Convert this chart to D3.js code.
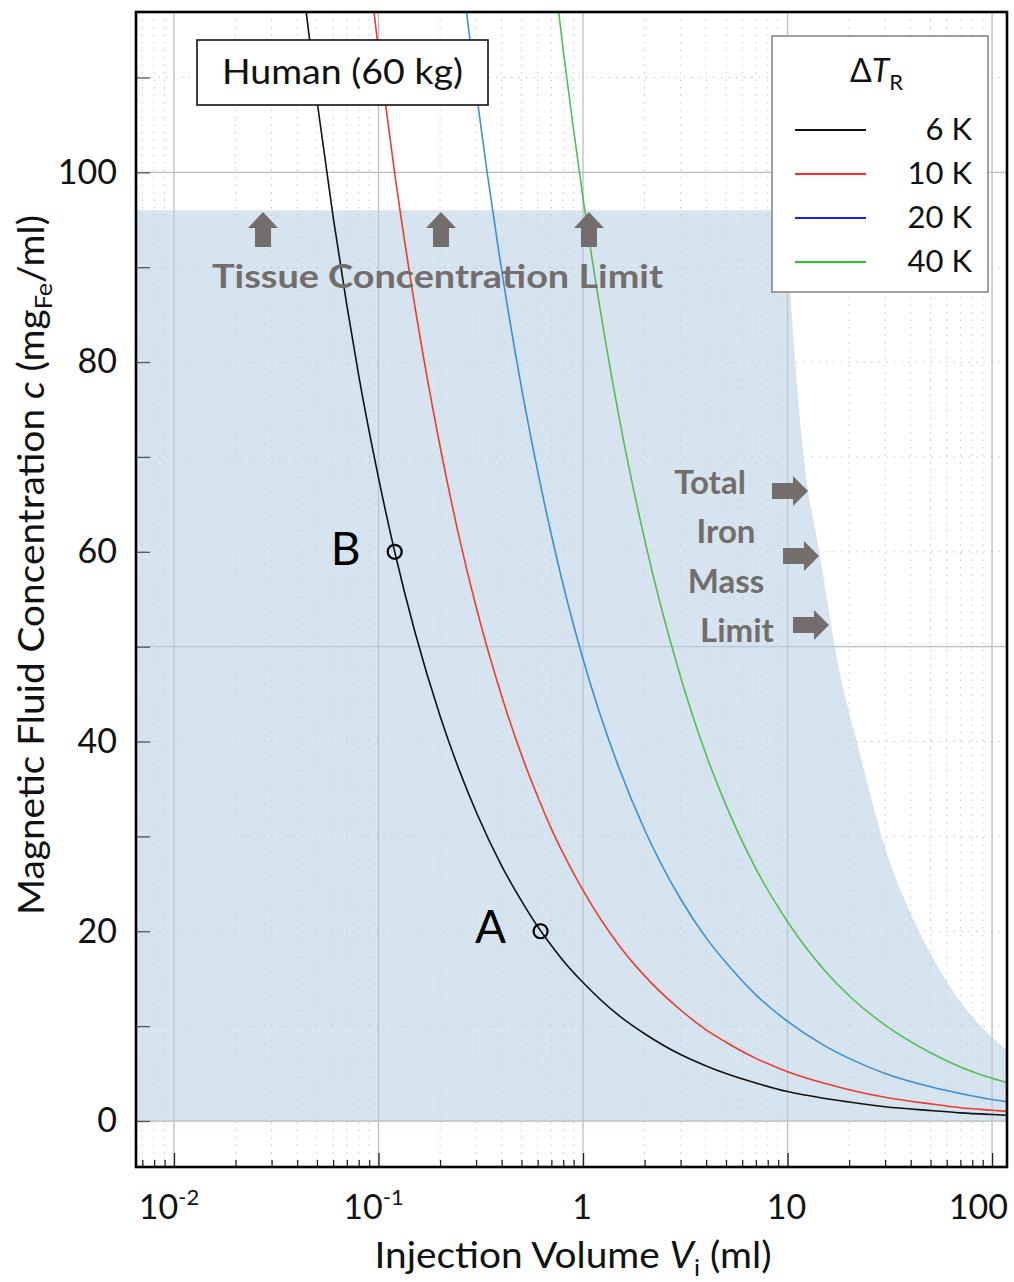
<!DOCTYPE html>
<html><head><meta charset="utf-8">
<script src="https://cdn.jsdelivr.net/npm/d3@7"></script>
<style>
body{margin:0;background:#fff}
text{font-family:Lato,"Open Sans",sans-serif}
</style>
</head><body>
<svg id="c" width="1014" height="1282"></svg>
<script>
// ---------- data ----------
const volumes = [0.04,0.05,0.06,0.07,0.08,0.1,0.12,0.15,0.2,0.25,0.3,0.4,0.5,0.6,0.7,0.8,1,1.5,2,3,4,5,7,10,15,20,30,50,70,100,120];
const conc6K  = [124.8,107.6,95.3,86.0,78.6,67.8,60.0,51.7,42.7,36.8,32.6,26.9,23.2,20.5,18.5,16.9,14.6,11.1,9.2,7.0,5.8,5.0,4.0,3.1,2.4,2.0,1.5,1.1,0.86,0.68,0.60];
const conc10K = [null,null,null,null,130.9,112.8,99.9,86.1,71.1,61.2,54.2,44.8,38.6,34.2,30.8,28.2,24.3,18.5,15.3,11.7,9.6,8.3,6.6,5.2,4.0,3.3,2.5,1.8,1.4,1.13,1.0];
const conc20K = [null,null,null,null,null,null,null,null,null,122.7,108.6,89.7,77.3,68.5,61.8,56.5,48.7,37.2,30.7,23.4,19.3,16.7,13.3,10.5,8.0,6.6,5.0,3.6,2.9,2.26,2.0];
const conc40K = [null,null,null,null,null,null,null,null,null,null,null,null,null,null,123.4,112.9,97.3,74.2,61.3,46.8,38.6,33.3,26.6,21.0,16.0,13.2,10.1,7.2,5.7,4.5,4.0];
const seriesNames = ["6 K","10 K","20 K","40 K"];
const seriesValues = [conc6K, conc10K, conc20K, conc40K];
const lineColors   = ["#111111","#ee3b2b","#3d8fd2","#55bd55"];
const legendColors = ["#111111","#ff2a2a","#1a1aff","#1ecc1e"];

const tissueLimit = 96;
const ironLimitVol  = [9.9,10.3,10.9,11.9,14.3,17.9,21.8,30.2,44,63,88,118.3];
const ironLimitConc = [96,88,80,70.7,60,47.5,40,28.6,20,14,10,7.5];

const pointNames = ["A","B"];
const pointVol   = [0.62,0.12];
const pointConc  = [20,60];

const xTickValues = [0.01,0.1,1,10,100];
const xTickBase   = ["10","10","1","10","100"];
const xTickExp    = ["-2","-1",null,null,null];
const yTickValues = [0,10,20,30,40,50,60,70,80,90,100,110];
const yLabelValues = [0,20,40,60,80,100];

// ---------- layout ----------
const L=136,R=1007,T=12,B=1167;
const svg = d3.select("#c");
const x = d3.scaleLog().domain([0.00652,118.3]).range([L,R]);
const y = d3.scaleLinear().domain([-4.85,116.9]).range([B,T]);

svg.append("defs").append("clipPath").attr("id","clip")
  .append("rect").attr("x",L).attr("y",T).attr("width",R-L).attr("height",B-T);

const minorX = [];
[0.001,0.01,0.1,1,10,100].forEach(d=>{for(let k=2;k<=9;k++){const v=d*k; if(v>x.domain()[0]&&v<x.domain()[1]) minorX.push(v);}});
const majorY = [0,50,100];
const minorY = yTickValues.filter(v=>!majorY.includes(v));

// grid
const grid = svg.append("g").attr("clip-path","url(#clip)");
grid.selectAll(".mxv").data(minorX).join("line")
  .attr("x1",d=>x(d)).attr("x2",d=>x(d)).attr("y1",T).attr("y2",B)
  .attr("stroke","#c4c4c4").attr("stroke-width",1).attr("stroke-dasharray","1.5,6");
grid.selectAll(".mny").data(minorY).join("line")
  .attr("x1",L).attr("x2",R).attr("y1",d=>y(d)).attr("y2",d=>y(d))
  .attr("stroke","#c4c4c4").attr("stroke-width",1).attr("stroke-dasharray","1.5,6");
grid.selectAll(".Mxv").data(xTickValues).join("line")
  .attr("x1",d=>x(d)).attr("x2",d=>x(d)).attr("y1",T).attr("y2",B)
  .attr("stroke","#bdbdbd").attr("stroke-width",1.3);
grid.selectAll(".Mny").data(majorY).join("line")
  .attr("x1",L).attr("x2",R).attr("y1",d=>y(d)).attr("y2",d=>y(d))
  .attr("stroke","#bdbdbd").attr("stroke-width",1.3);

// shaded permissible region
const boundary = d3.line().x(d=>x(d[0])).y(d=>y(d[1])).curve(d3.curveMonotoneX)(ironLimitVol.map((v,i)=>[v,ironLimitConc[i]]));
const shadeD = `M${x(x.domain()[0])},${y(0)} L${x(x.domain()[0])},${y(tissueLimit)} L` + boundary.slice(1)
  + ` L${x(x.domain()[1])},${y(0)} Z`;
svg.append("path").attr("clip-path","url(#clip)").attr("d", shadeD)
  .attr("fill","rgb(180,205,228)").attr("fill-opacity",0.55);

// curves
const line = d3.line().defined(d=>d[1]!=null).x(d=>x(d[0])).y(d=>y(d[1])).curve(d3.curveMonotoneX);
const curves = svg.append("g").attr("clip-path","url(#clip)");
seriesValues.forEach((vals,i)=>{
  curves.append("path").attr("d", line(volumes.map((v,j)=>[v,vals[j]])))
    .attr("fill","none").attr("stroke",lineColors[i]).attr("stroke-width",1.6);
});

// points A, B
pointNames.forEach((n,i)=>{
  svg.append("circle").attr("cx",x(pointVol[i])).attr("cy",y(pointConc[i])).attr("r",7)
    .attr("fill","none").attr("stroke","#000").attr("stroke-width",2.2);
});
svg.append("text").attr("x",x(pointVol[0])-50).attr("y",y(pointConc[0])+12).attr("text-anchor","middle")
  .attr("font-size",46).text(pointNames[0]);
svg.append("text").attr("x",x(pointVol[1])-49).attr("y",y(pointConc[1])+13).attr("text-anchor","middle")
  .attr("font-size",46).text(pointNames[1]);

// annotations
const annColor = "#736d6b";
function upArrow(cx,top){
  return `M${cx},${top} L${cx+15},${top+16} L${cx+8},${top+16} L${cx+8},${top+35} L${cx-8},${top+35} L${cx-8},${top+16} L${cx-15},${top+16} Z`;
}
function rightArrow(x0,cy){
  return `M${x0},${cy-8} L${x0+21},${cy-8} L${x0+21},${cy-15} L${x0+36},${cy} L${x0+21},${cy+15} L${x0+21},${cy+8} L${x0},${cy+8} Z`;
}
[263,441,589].forEach(cx=>svg.append("path").attr("d",upArrow(cx,212)).attr("fill",annColor));
svg.append("text").attr("x",212).attr("y",288).attr("font-size",33).attr("font-weight","bold")
  .attr("fill",annColor).attr("textLength",451).attr("lengthAdjust","spacingAndGlyphs")
  .text("Tissue Concentration Limit");
[["Total",710,494],["Iron",726,543],["Mass",726,593],["Limit",737,642]].forEach(([t,cx,by])=>{
  svg.append("text").attr("x",cx).attr("y",by).attr("text-anchor","middle").attr("font-size",33)
    .attr("font-weight","bold").attr("fill",annColor).text(t);
});
[[772,491],[783,556],[793,625]].forEach(([x0,cy])=>svg.append("path").attr("d",rightArrow(x0,cy)).attr("fill",annColor));

// axes ticks
const gx = svg.append("g").attr("transform",`translate(0,${B})`);
gx.call(d3.axisBottom(x).tickValues(xTickValues).tickSizeInner(-14).tickSizeOuter(0).tickFormat(""));
const gxm = svg.append("g").attr("transform",`translate(0,${B})`);
gxm.call(d3.axisBottom(x).tickValues(minorX).tickSizeInner(-7).tickSizeOuter(0).tickFormat(""));
[gx,gxm].forEach(g=>{g.select(".domain").remove(); g.selectAll("line").attr("stroke","#222").attr("stroke-width",1.3);});

const gy = svg.append("g").attr("transform",`translate(${L},0)`);
gy.call(d3.axisLeft(y).tickValues(yTickValues).tickSizeInner(-14).tickSizeOuter(0).tickPadding(19)
  .tickFormat(d=>yLabelValues.includes(d)?String(d):""));
gy.select(".domain").remove();
gy.selectAll("line").attr("stroke","#555").attr("stroke-width",1.3);
gy.selectAll("text").attr("font-size",34).attr("fill","#111").attr("font-family","Lato,'Open Sans',sans-serif");

// x tick labels
xTickValues.forEach((v,i)=>{
  const t = svg.append("text").attr("x",x(v)-(xTickExp[i]?5:1)).attr("y",1219)
    .attr("text-anchor","middle").attr("font-size",34).attr("fill","#111");
  t.append("tspan").text(xTickBase[i]);
  if(xTickExp[i]) t.append("tspan").attr("font-size",22).attr("dy",-14).text(xTickExp[i]);
  const bb = t.node().getBBox();
  if(bb.x+bb.width>R+1){ t.attr("text-anchor","end").attr("x",R+1); }
});

// frame
svg.append("rect").attr("x",L).attr("y",T).attr("width",R-L).attr("height",B-T)
  .attr("fill","none").attr("stroke","#000").attr("stroke-width",2.6);

// axis titles
const xt = svg.append("text").attr("x",573).attr("y",1268).attr("text-anchor","middle").attr("font-size",37).attr("fill","#111")
  .attr("textLength",397).attr("lengthAdjust","spacingAndGlyphs");
xt.append("tspan").text("Injection Volume ");
xt.append("tspan").attr("font-style","italic").text("V");
xt.append("tspan").attr("font-size",24).attr("dy",8).text("i");
xt.append("tspan").attr("dy",-8).text(" (ml)");

const yt = svg.append("text").attr("transform","translate(44,565) rotate(-90)").attr("text-anchor","middle")
  .attr("font-size",37).attr("fill","#111").attr("textLength",700).attr("lengthAdjust","spacingAndGlyphs");
yt.append("tspan").text("Magnetic Fluid Concentration ");
yt.append("tspan").attr("font-style","italic").text("c");
yt.append("tspan").text(" (mg");
yt.append("tspan").attr("font-size",24).attr("dy",8).text("Fe");
yt.append("tspan").attr("dy",-8).text("/ml)");

// Human box
svg.append("rect").attr("x",197).attr("y",40).attr("width",291).attr("height",65)
  .attr("fill","#fff").attr("stroke","#111").attr("stroke-width",1.6);
svg.append("text").attr("x",222).attr("y",84).attr("font-size",34).attr("fill","#111")
  .attr("textLength",241).attr("lengthAdjust","spacingAndGlyphs").text("Human (60 kg)");

// legend
const lg = svg.append("g");
lg.append("rect").attr("x",772).attr("y",36).attr("width",216).attr("height",256)
  .attr("fill","#fff").attr("stroke","#8a8a8a").attr("stroke-width",1.6);
const lt = lg.append("text").attr("x",850).attr("y",82).attr("font-size",32).attr("fill","#111");
lt.append("tspan").text("Δ");
lt.append("tspan").attr("font-style","italic").text("T");
lt.append("tspan").attr("font-size",22).attr("dy",8).text("R");
seriesNames.forEach((n,i)=>{
  const ly = 130 + i*44;
  lg.append("line").attr("x1",795).attr("x2",866).attr("y1",ly).attr("y2",ly)
    .attr("stroke",legendColors[i]).attr("stroke-width",2);
  lg.append("text").attr("x",972).attr("y",ly+10).attr("text-anchor","end").attr("font-size",31)
    .attr("fill","#111").text(n);
});
</script>
</body></html>
